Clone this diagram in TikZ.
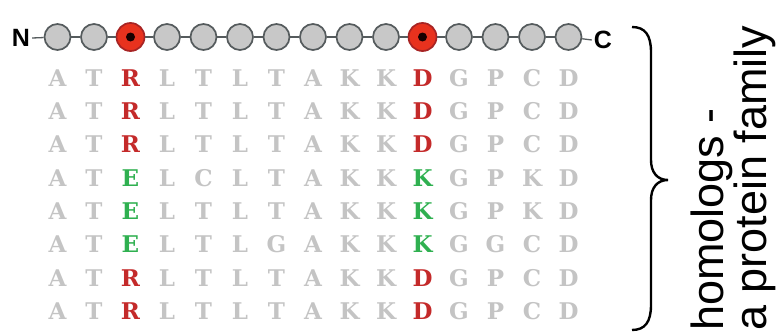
\documentclass[tikz,border=0pt]{standalone}
\usepackage{fontspec}
\setmainfont{Liberation Sans}
\newfontfamily\slabf{DejaVu Serif}
\usetikzlibrary{decorations.pathreplacing}
\definecolor{resgray}{HTML}{C8C8C8}
\definecolor{resedge}{HTML}{555B5D}
\definecolor{lettergray}{HTML}{C4C4C4}
\definecolor{hred}{HTML}{C42A2A}
\definecolor{hgreen}{HTML}{2FB050}
\definecolor{dotred}{HTML}{E8321E}
\begin{document}
\begin{tikzpicture}[x=1pt,y=-1pt,
  residue/.style={circle,draw=resedge,line width=1.7pt,fill=resgray,minimum size=26pt,inner sep=0pt},
  keyres/.style={circle,draw=hred!85!black,line width=1.7pt,fill=dotred,minimum size=28pt,inner sep=0pt},
  chain/.style={draw=resedge,line width=1.3pt},
  term/.style={font=\fontsize{25}{27}\selectfont\bfseries,inner sep=0pt},
  aa/.style={font=\fontsize{23}{25}\selectfont\slabf\bfseries,text=lettergray,inner sep=0pt},
  aakey/.style={font=\fontsize{23}{25}\selectfont\slabf\bfseries,inner sep=0pt},
  bracestyle/.style={line width=2.4pt}
]
\useasboundingbox (0,0) rectangle (780,332);
% terminal labels
\node[term] (N) at (21,38) {N};
\node[term] (C) at (603,40) {C};
% residues
\foreach \i in {0,...,14}{
  \pgfmathsetmacro{\xx}{57.5+36.5*\i}
  \ifnum\i=2
    \node[keyres] (c\i) at (\xx,37) {};
  \else\ifnum\i=10
    \node[keyres] (c\i) at (\xx,37) {};
  \else
    \node[residue] (c\i) at (\xx,37) {};
  \fi\fi
}
\fill[black!90!red] (c2.center) circle (4.5pt);
\fill[black!90!red] (c10.center) circle (4.5pt);
% chain connectors
\draw[chain] (N.east) ++(2,0) coordinate (n0) (n0) -- (c0);
\foreach \i [evaluate=\i as \j using int(\i+1)] in {0,...,13}{
  \draw[chain] (c\i) -- (c\j);
}
\coordinate (cend) at ([xshift=-2pt]C.west);
\draw[chain] (c14) -- (cend);
% alignment
\foreach \seq/\hc [count=\r from 0] in {
  {A,T,R,L,T,L,T,A,K,K,D,G,P,C,D}/hred,
  {A,T,R,L,T,L,T,A,K,K,D,G,P,C,D}/hred,
  {A,T,R,L,T,L,T,A,K,K,D,G,P,C,D}/hred,
  {A,T,E,L,C,L,T,A,K,K,K,G,P,K,D}/hgreen,
  {A,T,E,L,T,L,T,A,K,K,K,G,P,K,D}/hgreen,
  {A,T,E,L,T,L,G,A,K,K,K,G,G,C,D}/hgreen,
  {A,T,R,L,T,L,T,A,K,K,D,G,P,C,D}/hred,
  {A,T,R,L,T,L,T,A,K,K,D,G,P,C,D}/hred}{
  \foreach \ch [count=\c from 0] in \seq {
    \pgfmathsetmacro{\xx}{57.5+36.5*\c}
    \pgfmathsetmacro{\yy}{78+33.3*\r}
    \ifnum\c=2
      \node[aakey,text=\hc] (a\r-\c) at (\xx,\yy) {\ch};
    \else\ifnum\c=10
      \node[aakey,text=\hc] (a\r-\c) at (\xx,\yy) {\ch};
    \else
      \node[aa] (a\r-\c) at (\xx,\yy) {\ch};
    \fi\fi
  }
}
% brace
\draw[bracestyle] (632,27) .. controls (645,27) and (651,35) .. (651,52)
  -- (651,160) .. controls (651,172) and (657,180) .. (668,180)
  .. controls (657,180) and (651,188) .. (651,200)
  -- (651,305) .. controls (651,322) and (645,330) .. (632,330);
% label
\node[rotate=90,anchor=base west,align=left,inner sep=0pt,
      font=\fontsize{45}{43}\selectfont] (lbl) at (766,331) {homologs -\\a protein family};
\end{tikzpicture}
\end{document}
